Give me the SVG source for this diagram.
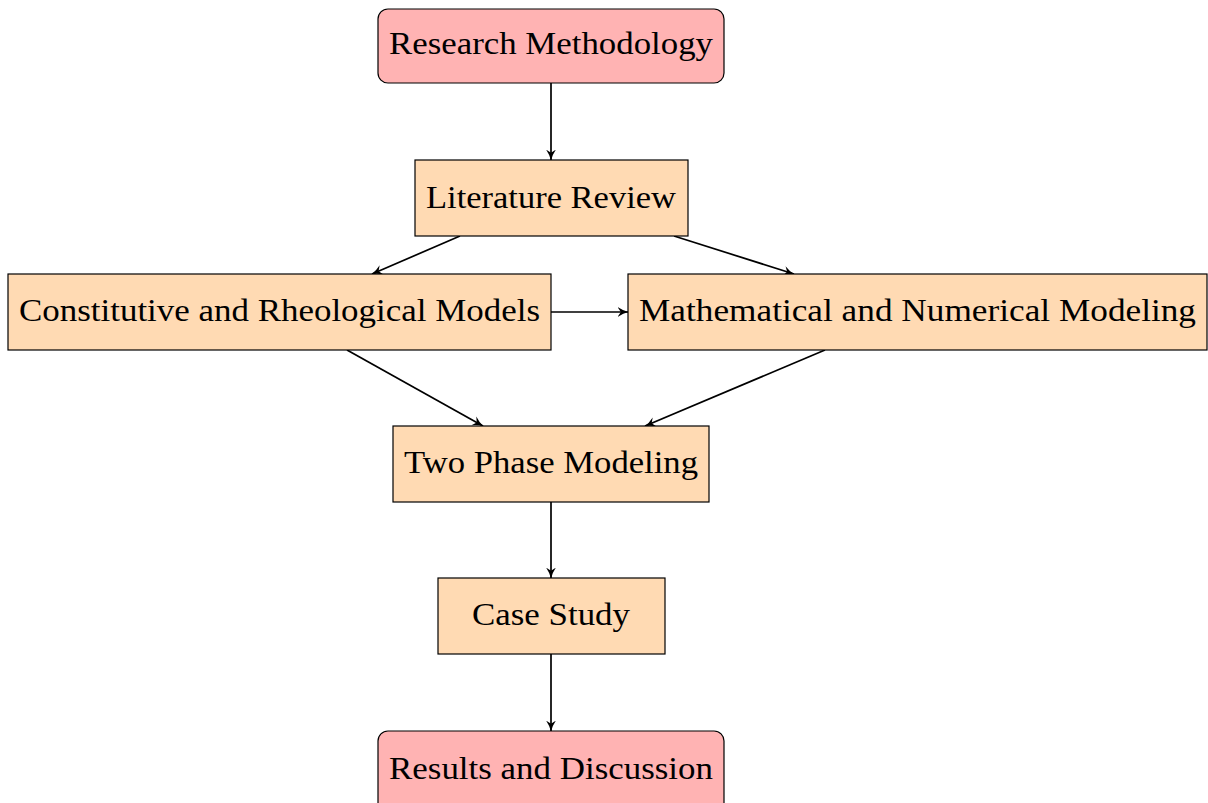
<svg xmlns="http://www.w3.org/2000/svg" width="1208" height="803" viewBox="0 0 1208 803">
<style>
.start{fill:#ffb3b3;stroke:#000;stroke-width:1.2}
.proc{fill:#ffdab3;stroke:#000;stroke-width:1.2}
.t{font-family:"Liberation Serif","DejaVu Serif",serif;font-size:31px;fill:#000;text-anchor:middle}
.c{stroke:#000;stroke-width:1.7;fill:none;marker-end:url(#ah)}
</style>
<defs>
<marker id="ah" viewBox="0 0 10 10" refX="9.5" refY="5" markerWidth="11" markerHeight="11" orient="auto" markerUnits="userSpaceOnUse">
<path d="M0,0.5 Q5,4 10,5 Q5,6 0,9.5 L3,5 Z" fill="#000"/>
</marker>
</defs>
<rect width="1208" height="803" fill="#fff"/>
<g id="connectors">
<line class="c" x1="551" y1="83" x2="551" y2="160"/>
<line class="c" x1="460" y1="236" x2="372" y2="274"/>
<line class="c" x1="674" y1="236" x2="794" y2="274"/>
<line class="c" x1="551" y1="312" x2="628" y2="312"/>
<line class="c" x1="347" y1="350" x2="483" y2="426"/>
<line class="c" x1="825" y1="350" x2="645" y2="426"/>
<line class="c" x1="551" y1="502" x2="551" y2="578"/>
<line class="c" x1="551" y1="654" x2="551" y2="731"/>
</g>
<g id="research-methodology">
<rect class="start" x="378" y="9" width="346" height="74" rx="10"/>
<text class="t" x="551" y="54" textLength="324" lengthAdjust="spacingAndGlyphs">Research Methodology</text>
</g>
<g id="literature-review">
<rect class="proc" x="415" y="160" width="273" height="76"/>
<text class="t" x="551" y="208" textLength="250" lengthAdjust="spacingAndGlyphs">Literature Review</text>
</g>
<g id="constitutive">
<rect class="proc" x="8" y="274" width="543" height="76"/>
<text class="t" x="279.5" y="321" textLength="521" lengthAdjust="spacingAndGlyphs">Constitutive and Rheological Models</text>
</g>
<g id="mathematical">
<rect class="proc" x="628" y="274" width="579" height="76"/>
<text class="t" x="917.5" y="321" textLength="557" lengthAdjust="spacingAndGlyphs">Mathematical and Numerical Modeling</text>
</g>
<g id="two-phase">
<rect class="proc" x="393" y="426" width="316" height="76"/>
<text class="t" x="551" y="473" textLength="294" lengthAdjust="spacingAndGlyphs">Two Phase Modeling</text>
</g>
<g id="case-study">
<rect class="proc" x="438" y="578" width="227" height="76"/>
<text class="t" x="551" y="625" textLength="158" lengthAdjust="spacingAndGlyphs">Case Study</text>
</g>
<g id="results">
<rect class="start" x="378" y="731" width="346" height="82" rx="10"/>
<text class="t" x="551" y="779" textLength="324" lengthAdjust="spacingAndGlyphs">Results and Discussion</text>
</g>
</svg>
